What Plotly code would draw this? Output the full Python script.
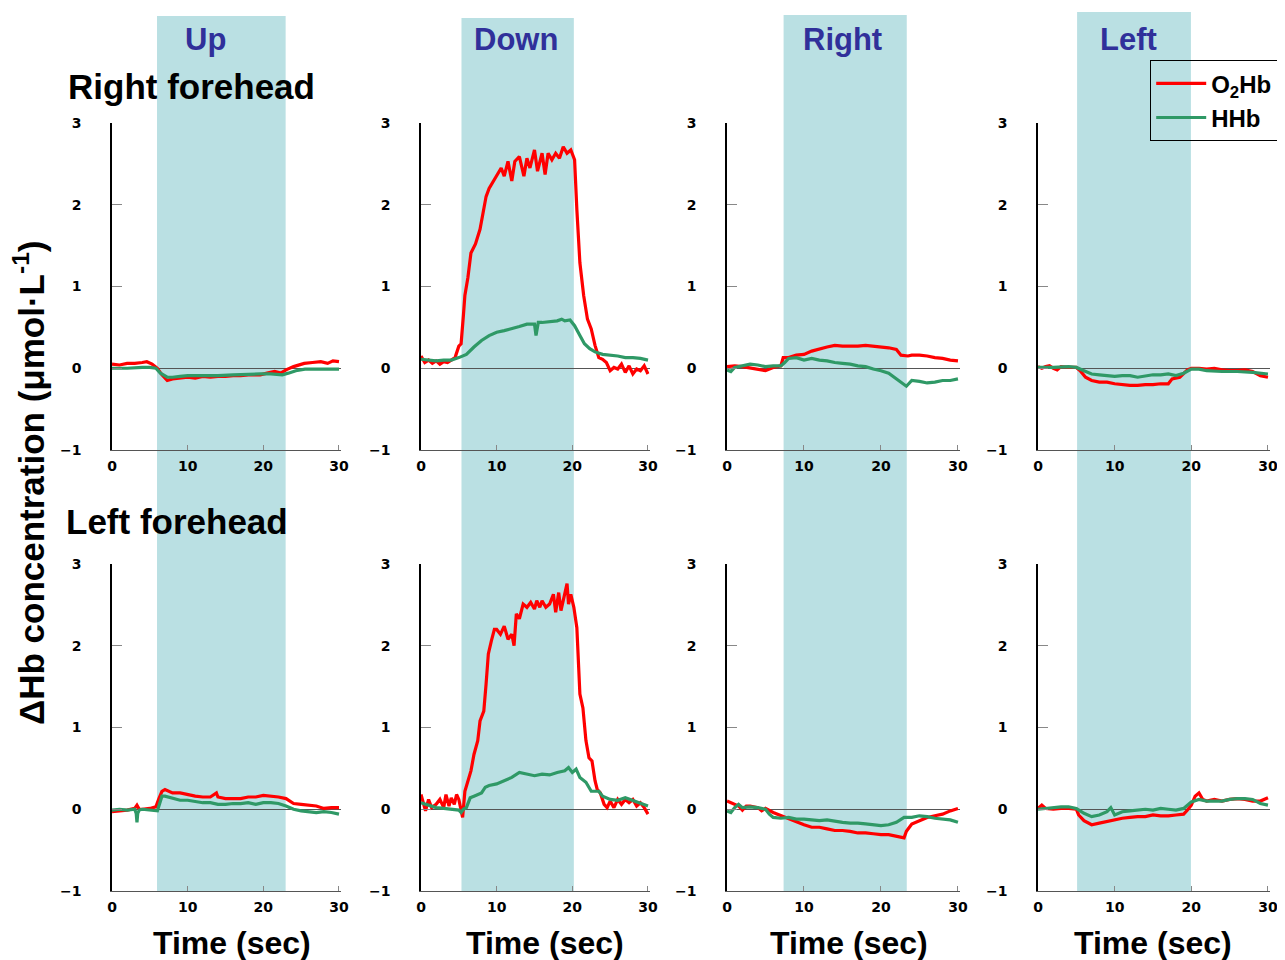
import plotly.graph_objects as go

# page body has an 8px margin; figure sized so it fits the 1285x960 window
OFF = 8
W, H = 1285 - OFF, 960 - OFF

# ---------------- data ----------------
# Right forehead, Up
t_rf_up_o2 = [0,1,2,3,4,4.6,5.3,6,6.6,7.3,8,9,10,11,12,13,14,15,16,17,18,19,19.6,20.5,21.5,22.3,23,24,25.4,26.5,27.6,28.5,29.2,30]
v_rf_up_o2 = [0.05,0.04,0.06,0.06,0.07,0.08,0.05,0.0,-0.08,-0.15,-0.13,-0.12,-0.11,-0.12,-0.10,-0.11,-0.10,-0.10,-0.09,-0.09,-0.08,-0.08,-0.08,-0.06,-0.04,-0.06,-0.02,0.02,0.06,0.07,0.08,0.06,0.09,0.08]
t_rf_up_hh = [0,2,4,5,5.8,6.4,7.3,8,9,10,12,14,16,18,19.6,21,22.5,23.3,24.3,25.5,27,28.5,30]
v_rf_up_hh = [0.0,0.0,0.01,0.01,0.0,-0.06,-0.11,-0.11,-0.10,-0.09,-0.09,-0.09,-0.08,-0.07,-0.07,-0.07,-0.08,-0.06,-0.03,-0.01,-0.01,-0.01,-0.01]

# Right forehead, Down
t_rf_down_o2 = [0,0.5,1,1.5,2,2.5,3,3.5,4,4.5,5,5.3,5.6,5.8,6.2,6.6,7.2,7.8,8.2,8.6,9,9.6,10,10.6,11,11.5,12,12.4,13,13.6,14,14.4,15,15.4,16,16.4,16.8,17.3,17.8,18.3,18.8,19.3,19.8,20.3,20.6,21,21.5,22,22.5,23,23.5,24,24.5,25,25.5,26,26.5,27,27.5,28,28.5,29,29.5,30]
v_rf_down_o2 = [0.15,0.07,0.10,0.06,0.09,0.05,0.08,0.07,0.10,0.13,0.27,0.30,0.64,0.89,1.11,1.41,1.52,1.70,1.90,2.10,2.20,2.29,2.35,2.45,2.35,2.53,2.29,2.53,2.59,2.35,2.57,2.45,2.67,2.41,2.63,2.37,2.63,2.55,2.63,2.57,2.71,2.63,2.67,2.55,1.94,1.29,0.89,0.60,0.48,0.28,0.13,0.11,0.07,-0.03,0.01,-0.01,0.05,-0.05,0.03,-0.07,-0.01,-0.03,0.03,-0.07]
t_rf_down_hh = [0,1,2,3,4,5,6,7,8,9,10,11,12,13,14,15,15.2,15.5,16,17,18,18.6,19,19.7,20.3,21,21.6,22.3,23,24,25,26,27,28,29,30]
v_rf_down_hh = [0.11,0.10,0.09,0.10,0.10,0.13,0.17,0.26,0.34,0.40,0.44,0.46,0.48,0.51,0.54,0.54,0.40,0.56,0.56,0.57,0.58,0.60,0.58,0.59,0.52,0.40,0.30,0.24,0.20,0.17,0.16,0.15,0.13,0.13,0.12,0.10]

# Right forehead, Right
t_rf_right_o2 = [0,1,2,3,4,5,6,7,7.3,8,9,10,11,12,13,14,15,16,17,18,19,20,21,22,22.6,23.5,24,25,26,27,28,29,30]
v_rf_right_o2 = [0.02,0.03,0.02,0.00,-0.01,-0.03,0.01,0.03,0.13,0.13,0.16,0.17,0.21,0.24,0.26,0.28,0.27,0.27,0.27,0.28,0.27,0.26,0.25,0.23,0.16,0.15,0.16,0.16,0.15,0.13,0.12,0.10,0.09]
t_rf_right_hh = [0,0.5,1,2,3,4,5,6,7,7.5,8,9,10,11,12,13,14,15,16,17,18,19,20,21,22,23,23.3,24,25,26,27,28,29,30]
v_rf_right_hh = [-0.02,-0.04,0.01,0.03,0.05,0.04,0.02,0.03,0.03,0.07,0.12,0.13,0.10,0.12,0.10,0.09,0.07,0.06,0.05,0.03,0.02,-0.01,-0.03,-0.06,-0.13,-0.20,-0.22,-0.15,-0.16,-0.18,-0.17,-0.15,-0.15,-0.13]

# Right forehead, Left
t_rf_left_o2 = [0,0.5,1,1.5,2,2.5,3,4,5,5.5,6.2,7,8,9,10,11,12,13,14,15,16,17,17.5,18.5,19,19.5,20,21,22,23,24,25,26,27,28,29,30]
v_rf_left_o2 = [0.02,0.0,0.02,0.03,0.0,-0.02,0.02,0.01,0.01,-0.03,-0.11,-0.15,-0.17,-0.17,-0.19,-0.20,-0.21,-0.21,-0.20,-0.20,-0.19,-0.19,-0.13,-0.11,-0.07,-0.02,0.0,0.0,-0.01,0.0,-0.02,-0.03,-0.03,-0.02,-0.04,-0.09,-0.11]
t_rf_left_hh = [0,2,4,5,6,7,8,9,10,11,12,13,14,15,16,17,18,19,20,21,22,24,26,28,30]
v_rf_left_hh = [0.01,0.01,0.02,0.01,-0.03,-0.07,-0.08,-0.09,-0.10,-0.09,-0.09,-0.11,-0.09,-0.08,-0.08,-0.07,-0.09,-0.06,-0.01,-0.01,-0.03,-0.04,-0.04,-0.05,-0.07]

# Left forehead, Up
t_lf_up_o2 = [0,1,2,3,3.3,3.6,4,5,5.8,6.2,6.6,7,8,9,10,11,12,13,13.8,14,15,16,17,18,19,20,21,22,23,24,25,26,27,28,29,30]
v_lf_up_o2 = [-0.03,-0.02,-0.01,0.01,0.05,0.0,0.0,0.01,0.03,0.13,0.22,0.24,0.20,0.20,0.18,0.16,0.15,0.15,0.20,0.15,0.13,0.13,0.13,0.15,0.15,0.17,0.16,0.15,0.13,0.07,0.06,0.05,0.04,0.01,0.02,0.02]
t_lf_up_hh = [0,1,2,3,3.2,3.3,3.4,3.6,4,5,6,6.3,6.6,7,8,9,10,11,12,13,14,15,16,17,18,19,20,21,22,23,24,25,26,27,28,29,30]
v_lf_up_hh = [-0.01,0.0,-0.01,0.0,-0.05,-0.16,-0.05,-0.01,0.0,-0.01,-0.02,0.07,0.16,0.16,0.13,0.11,0.11,0.09,0.08,0.08,0.06,0.06,0.07,0.07,0.08,0.06,0.08,0.08,0.07,0.04,0.0,-0.02,-0.03,-0.04,-0.03,-0.04,-0.06]

# Left forehead, Down
t_lf_down_o2 = [0,0.3,0.6,1,1.4,2,2.5,3,3.3,3.7,4,4.4,4.7,5,5.3,5.5,5.8,6.2,6.6,7,7.5,7.8,8.3,8.6,8.9,9.3,9.7,10,10.5,11,11.5,12,12.3,12.6,13,13.5,14,14.5,15,15.3,15.7,16,16.5,17,17.5,17.8,18.2,18.5,19,19.3,19.5,19.8,20.2,20.6,21,21.4,21.8,22.2,22.6,23,23.3,23.7,24.2,24.6,25,25.5,26,26.5,27,27.5,28,28.5,29,29.5,30]
v_lf_down_o2 = [0.18,0.08,-0.02,0.12,0.02,0.06,0.12,0.02,0.18,0.04,0.14,0.06,0.18,0.12,-0.04,-0.10,0.22,0.35,0.47,0.67,0.84,1.08,1.20,1.53,1.90,2.06,2.20,2.20,2.14,2.24,2.08,2.14,2.00,2.39,2.33,2.51,2.47,2.53,2.45,2.55,2.47,2.55,2.47,2.51,2.63,2.41,2.65,2.43,2.63,2.76,2.51,2.63,2.47,2.22,1.41,1.24,0.84,0.63,0.59,0.35,0.24,0.20,0.06,0.02,0.10,0.02,0.12,0.06,0.12,0.08,0.12,0.04,0.08,0.02,-0.06]
t_lf_down_hh = [0,1,2,3,4,5,5.3,5.6,6,6.5,7,8,8.5,9,10,11,12,13,14,15,16,17,18,19,19.5,20,20.5,21,21.8,22.5,23.5,24,25,26,27,28,29,30]
v_lf_down_hh = [0.08,0.05,0.02,0.01,0.0,-0.01,-0.04,0.0,0.02,0.14,0.16,0.20,0.27,0.29,0.31,0.35,0.39,0.45,0.43,0.41,0.43,0.42,0.45,0.47,0.51,0.45,0.49,0.39,0.33,0.22,0.22,0.16,0.12,0.11,0.14,0.11,0.08,0.04]

# Left forehead, Right
t_lf_right_o2 = [0,1,1.5,2,2.5,3,4,4.5,5,6,7,8,9,10,11,12,13,14,15,16,17,18,19,20,21,22,23,23.3,24,25,26,27,28,29,30]
v_lf_right_o2 = [0.10,0.06,0.04,-0.01,0.04,0.04,0.02,-0.02,0.01,-0.04,-0.08,-0.12,-0.16,-0.19,-0.22,-0.22,-0.24,-0.26,-0.26,-0.27,-0.29,-0.29,-0.30,-0.31,-0.31,-0.33,-0.35,-0.27,-0.18,-0.14,-0.10,-0.08,-0.06,-0.02,0.01]
t_lf_right_hh = [0,0.5,1,1.5,2,3,4,5,5.5,6,7,8,9,10,11,12,13,14,15,16,17,18,19,20,21,22,23,24,25,26,27,28,29,30]
v_lf_right_hh = [-0.02,-0.04,0.02,0.06,0.02,0.03,0.02,0.0,-0.06,-0.10,-0.11,-0.10,-0.12,-0.12,-0.13,-0.14,-0.13,-0.15,-0.16,-0.17,-0.17,-0.18,-0.19,-0.20,-0.19,-0.16,-0.10,-0.10,-0.08,-0.09,-0.11,-0.12,-0.13,-0.16]

# Left forehead, Left
t_lf_left_o2 = [0,0.5,1,2,3,4,5,5.3,6,7,8,9,10,11,12,13,14,15,16,17,18,19,19.5,20,20.5,21,21.5,22,23,24,25,26,27,28,29,30]
v_lf_left_o2 = [0.01,0.05,0.01,0.0,0.01,0.01,0.0,-0.07,-0.14,-0.19,-0.17,-0.15,-0.13,-0.11,-0.10,-0.09,-0.09,-0.07,-0.08,-0.08,-0.07,-0.06,-0.01,0.05,0.16,0.20,0.12,0.10,0.12,0.10,0.12,0.13,0.12,0.10,0.10,0.14]
t_lf_left_hh = [0,1,2,3,4,5,5.5,6,7,8,9,9.5,10,11,12,13,14,15,16,17,18,19,20,21,22,23,24,25,26,27,28,29,30]
v_lf_left_hh = [0.0,0.01,0.02,0.03,0.03,0.01,-0.02,-0.05,-0.09,-0.07,-0.03,0.02,-0.07,-0.03,-0.02,-0.01,0.0,-0.01,0.01,0.0,-0.01,0.01,0.09,0.12,0.10,0.10,0.10,0.12,0.13,0.13,0.12,0.07,0.05]

# stimulus periods (sec) per column
band_start = [5.95, 5.35, 7.35, 5.1]
band_end = [22.95, 20.2, 23.35, 19.95]

col_titles = ["Up", "Down", "Right", "Left"]
row_titles = ["Right forehead", "Left forehead"]
x_ticks = [0, 10, 20, 30]
y_ticks = [-1, 0, 1, 2, 3]
series_names = ["O<sub>2</sub>Hb", "HHb"]

panels = [
    [(t_rf_up_o2, v_rf_up_o2, t_rf_up_hh, v_rf_up_hh),
     (t_rf_down_o2, v_rf_down_o2, t_rf_down_hh, v_rf_down_hh),
     (t_rf_right_o2, v_rf_right_o2, t_rf_right_hh, v_rf_right_hh),
     (t_rf_left_o2, v_rf_left_o2, t_rf_left_hh, v_rf_left_hh)],
    [(t_lf_up_o2, v_lf_up_o2, t_lf_up_hh, v_lf_up_hh),
     (t_lf_down_o2, v_lf_down_o2, t_lf_down_hh, v_lf_down_hh),
     (t_lf_right_o2, v_lf_right_o2, t_lf_right_hh, v_lf_right_hh),
     (t_lf_left_o2, v_lf_left_o2, t_lf_left_hh, v_lf_left_hh)],
]

# ---------------- layout geometry (screen pixels) ----------------
RED = "#FF0000"
GREEN = "#2F9966"
BAND = "#BAE0E3"
TITLE_BLUE = "#30309A"
FONT = "Liberation Sans, Arial, Helvetica, sans-serif"
TICKFONT = "DejaVu Sans, sans-serif"

col_px = [(112, 340.5), (421, 649.5), (727, 959.5), (1038, 1269.5)]
row_px = [(123, 450), (564, 891)]
band_top_px = [16, 18, 15, 12]
col_title_px = [205, 516, 843, 1128]
xtitle_px = [232, 545, 849, 1153]


def px_x(p):
    return (p - OFF) / W


def px_y(p):
    return 1 - (p - OFF) / H


fig = go.Figure()
layout = dict(
    width=W, height=H,
    margin=dict(l=0, r=0, t=0, b=0, pad=0, autoexpand=False),
    paper_bgcolor="white",
    plot_bgcolor="rgba(0,0,0,0)",
    showlegend=True,
    legend=dict(
        x=px_x(1150), y=px_y(60), xanchor="left", yanchor="top",
        bgcolor="rgba(0,0,0,0)", bordercolor="black", borderwidth=1.2,
        font=dict(family=FONT, size=24, color="black", weight="bold"),
        itemwidth=50, tracegroupgap=0,
    ),
)

shapes = []
annotations = []

for r in range(2):
    for c in range(4):
        k = r * 4 + c + 1
        sfx = "" if k == 1 else str(k)
        t1, v1, t2, v2 = panels[r][c]
        fig.add_trace(go.Scatter(
            x=t1, y=v1, mode="lines", name=series_names[0],
            line=dict(color=RED, width=3.2), xaxis="x" + sfx, yaxis="y" + sfx,
            showlegend=(k == 1), legendrank=1))
        fig.add_trace(go.Scatter(
            x=t2, y=v2, mode="lines", name=series_names[1],
            line=dict(color=GREEN, width=3.2), xaxis="x" + sfx, yaxis="y" + sfx,
            showlegend=(k == 1), legendrank=2))
        x0, x1 = col_px[c]
        y0, y1 = row_px[r]
        layout["xaxis" + sfx] = dict(
            domain=[px_x(x0), px_x(x1)], anchor="y" + sfx, automargin=False,
            range=[0, 30.2], tickvals=x_ticks, ticks="inside", ticklen=5,
            tickcolor="#888888", tickwidth=1.2,
            showline=True, linecolor="#555555", linewidth=1.3,
            showgrid=False, zeroline=False, ticklabelstandoff=3,
            tickfont=dict(family=TICKFONT, size=14, color="black", weight="bold"),
        )
        layout["yaxis" + sfx] = dict(
            domain=[px_y(y1), px_y(y0)], anchor="x" + sfx, automargin=False,
            range=[-1, 3], tickvals=y_ticks, ticks="inside", ticklen=10,
            tickcolor="#888888", tickwidth=1.2,
            showline=True, linecolor="black", linewidth=1.5,
            showgrid=False, zeroline=True, zerolinecolor="#555555",
            zerolinewidth=1, ticklabelstandoff=26,
            tickfont=dict(family=TICKFONT, size=14, color="black", weight="bold"),
        )

for c in range(4):
    sfx = "" if c == 0 else str(c + 1)
    shapes.append(dict(
        type="rect", xref="x" + sfx, yref="paper",
        x0=band_start[c], x1=band_end[c],
        y0=px_y(row_px[1][1]), y1=px_y(band_top_px[c]),
        fillcolor=BAND, line=dict(width=0), layer="below"))
    annotations.append(dict(
        text=col_titles[c], xref="paper", yref="paper",
        x=px_x(col_title_px[c]), y=px_y(40), xanchor="center", yanchor="middle",
        showarrow=False, font=dict(family=FONT, size=31, color=TITLE_BLUE, weight="bold")))
    annotations.append(dict(
        text="Time (sec)", xref="paper", yref="paper",
        x=px_x(xtitle_px[c]), y=px_y(943), xanchor="center", yanchor="middle",
        showarrow=False, font=dict(family=FONT, size=32, color="black", weight="bold")))

for r, (xl, yc) in enumerate([(66, 86), (64, 521)]):
    annotations.append(dict(
        text=row_titles[r], xref="paper", yref="paper",
        x=px_x(xl), y=px_y(yc), xanchor="left", yanchor="middle",
        showarrow=False, font=dict(family=FONT, size=35, color="black", weight="bold")))

annotations.append(dict(
    text="ΔHb concentration (μmol·L<sup>-1</sup>)", xref="paper", yref="paper",
    x=px_x(29), y=px_y(483), xanchor="center", yanchor="middle", textangle=-90,
    showarrow=False, font=dict(family=FONT, size=35, color="black", weight="bold")))

layout["shapes"] = shapes
layout["annotations"] = annotations
fig.update_layout(**layout)
fig.write_html("out.html")
